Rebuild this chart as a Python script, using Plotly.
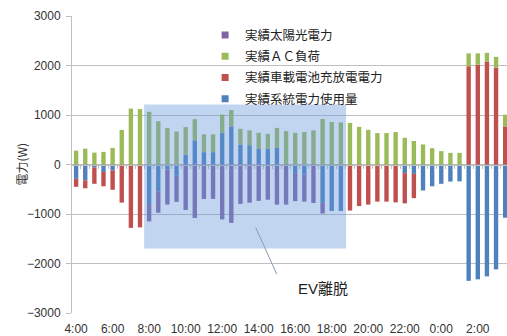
import plotly.graph_objects as go

# Half-hourly time slots, 4:00 through 3:30 the next morning
times = [
    "4:00", "4:30", "5:00", "5:30", "6:00", "6:30", "7:00", "7:30",
    "8:00", "8:30", "9:00", "9:30", "10:00", "10:30", "11:00", "11:30",
    "12:00", "12:30", "13:00", "13:30", "14:00", "14:30", "15:00", "15:30",
    "16:00", "16:30", "17:00", "17:30", "18:00", "18:30", "19:00", "19:30",
    "20:00", "20:30", "21:00", "21:30", "22:00", "22:30", "23:00", "23:30",
    "0:00", "0:30", "1:00", "1:30", "2:00", "2:30", "3:00", "3:30",
]

# 実績系統電力使用量 (W)
grid_power = [
    -290, -320, -60, -150, -120, 0, 0, 0,
    -800, -540, -100, -230, 200, 490, 250, 250,
    640, 770, 405, 390, 315, 315, 335, 0,
    -170, -200, 0, -775, -940, -940, 0, 0,
    0, 0, 0, 0, -175, -190, -525, -440,
    -390, -345, -340, -2350, -2320, -2260, -2120, -1075,
]

# 実績車載電池充放電電力 (W)
ev_battery_power = [
    -160, -160, -330, -290, -390, -770, -1280, -1270,
    0, 0, 0, 0, 0, 0, 0, 0,
    0, 0, 0, 0, 0, 0, 0, 0,
    0, 0, 0, 0, 0, 0, -930, -840,
    -810, -750, -750, -765, -610, -490, 0, 0,
    0, 0, 0, 1985, 2020, 2080, 1960, 770,
]

# 実績ＡＣ負荷 (W)
ac_load = [
    280, 320, 240, 255, 335, 700, 1130, 1120,
    1065, 875, 735, 665, 555, 425, 360, 360,
    370, 330, 315, 300, 325, 305, 405, 675,
    640, 655, 690, 920, 860, 850, 840, 760,
    700, 635, 635, 655, 540, 475, 405, 330,
    270, 235, 235, 260, 225, 175, 215, 235,
]

# 実績太陽光電力 (W)
solar_power = [
    0, 0, 0, 0, 0, 0, 0, 0,
    -350, -435, -710, -525, -920, -1080, -695, -695,
    -1110, -1180, -795, -772, -735, -712, -810, -810,
    -570, -550, -778, -215, 0, 0, 0, 0,
    0, 0, 0, 0, 0, 0, 0, 0,
    0, 0, 0, 0, 0, 0, 0, 0,
]

# Period when the EV is away from home
ev_away_x = (7.45, 29.57)
ev_away_y = (-1695, 1210)

label_every = 4
y_ticks = [-3000, -2000, -1000, 0, 1000, 2000, 3000]

BLUE = "#4F81BD"
RED = "#C0504D"
GREEN = "#9BBB59"
PURPLE = "#8064A2"
GRID = "#BFBFBF"
TEXT = "#333333"
FONT = "Liberation Sans, Noto Sans CJK JP, sans-serif"
CJK_FONT = "Noto Sans CJK JP, sans-serif"

pos = list(range(len(times)))

# Stacking order: grid first (closest to zero), then battery, load, solar
series = [
    ("実績系統電力使用量", grid_power, BLUE),
    ("実績車載電池充放電電力", ev_battery_power, RED),
    ("実績ＡＣ負荷", ac_load, GREEN),
    ("実績太陽光電力", solar_power, PURPLE),
]

fig = go.Figure()
for name, vals, color in series:
    fig.add_trace(go.Bar(
        x=pos, y=vals, name=name,
        marker=dict(color=color, line=dict(width=0)),
        showlegend=False,
    ))

# Legend entries with small square keys (listed top to bottom)
for name, vals, color in reversed(series):
    fig.add_trace(go.Scatter(
        x=[None], y=[None], name=name, mode="markers",
        marker=dict(symbol="square", size=7, color=color),
        xaxis="x2", legendgroup=name,
    ))

x_range = [-0.45, 47.2]

fig.update_layout(
    width=507, height=336,
    margin=dict(l=72, r=0, t=16, b=23),
    paper_bgcolor="white", plot_bgcolor="white",
    barmode="relative", bargap=0.52,
    font=dict(family=FONT, size=12, color=TEXT),
    xaxis=dict(
        range=x_range, tickmode="array",
        tickvals=pos[::label_every], ticktext=times[::label_every],
        showgrid=False, zeroline=False, showline=False,
        ticks="outside", ticklen=5, tickcolor="rgba(0,0,0,0)",
        tickfont=dict(size=12, color=TEXT), automargin=False,
    ),
    xaxis2=dict(
        range=x_range, overlaying="x", anchor="free", position=0.5,
        showline=True, linecolor=GRID, linewidth=1,
        tickmode="array", tickvals=[p - 0.5 for p in pos] + [pos[-1] + 0.5],
        ticks="outside", ticklen=3, tickcolor=GRID, tickwidth=1,
        showticklabels=False, showgrid=False, zeroline=False,
    ),
    yaxis=dict(
        range=[-3000, 3000], tickmode="array", tickvals=y_ticks,
        showgrid=True, gridcolor=GRID, gridwidth=1,
        zeroline=False, showline=True, linecolor=GRID, linewidth=1,
        ticks="outside", ticklen=5, tickcolor=GRID,
        tickfont=dict(size=12, color=TEXT), ticklabelstandoff=3,
        automargin=False,
    ),
    legend=dict(
        x=0.306, y=0.985, xanchor="left", yanchor="top",
        bgcolor="rgba(0,0,0,0)", borderwidth=0,
        font=dict(family=CJK_FONT, size=12.5, color="#222222"),
        traceorder="grouped", tracegroupgap=2, itemwidth=30,
    ),
    shapes=[
        dict(type="rect", xref="x", yref="y",
             x0=ev_away_x[0], x1=ev_away_x[1], y0=ev_away_y[0], y1=ev_away_y[1],
             fillcolor="rgba(100,150,220,0.40)", line=dict(width=0), layer="above"),
        dict(type="line", xref="x", yref="y",
             x0=19.68, y0=-1276, x1=21.98, y1=-2218,
             line=dict(color="#8A9AB5", width=1), layer="above"),
    ],
    annotations=[
        # y-axis title, placed just left of the tick labels
        dict(text="電力(W)", x=-0.117, y=0.5, xref="paper", yref="paper",
             xanchor="center", yanchor="middle", textangle=-90, showarrow=False,
             font=dict(family=CJK_FONT, size=12, color=TEXT)),
        dict(text="EV離脱", x=27.0, y=-2500, xref="x", yref="y",
             showarrow=False, font=dict(family=FONT, size=15, color="#222222")),
    ],
)

fig.write_html("out.html")
